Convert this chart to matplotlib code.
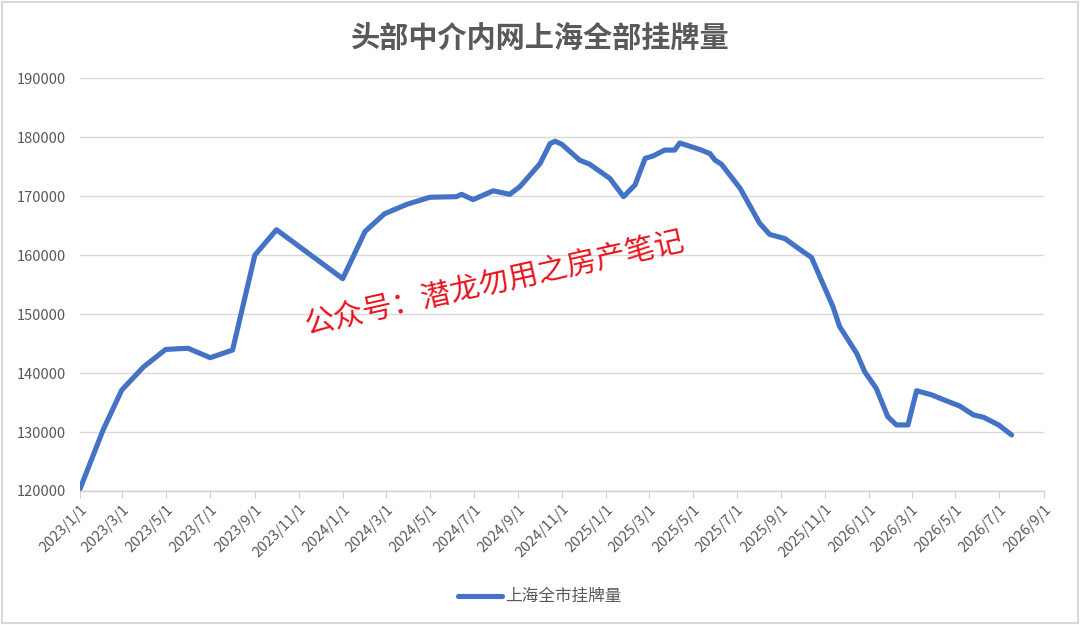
import pandas as pd
import matplotlib
matplotlib.use("Agg")
import matplotlib.pyplot as plt
from matplotlib.patches import Rectangle

plt.rcParams['font.family'] = ['Noto Sans CJK SC', 'DejaVu Sans']

# 数据
fechas = [
    "2023-01-01", "2023-02-02", "2023-02-28", "2023-03-30", "2023-04-30", "2023-05-31",
    "2023-07-01", "2023-08-01", "2023-09-01", "2023-10-01", "2024-01-01", "2024-02-01",
    "2024-02-28", "2024-03-30", "2024-05-01", "2024-06-07", "2024-06-14", "2024-06-30",
    "2024-07-28", "2024-08-20", "2024-09-03", "2024-10-01", "2024-10-15", "2024-10-22",
    "2024-10-31", "2024-11-25", "2024-12-09", "2025-01-06", "2025-01-25", "2025-02-10",
    "2025-02-24", "2025-03-07", "2025-03-23", "2025-04-06", "2025-04-13", "2025-05-11",
    "2025-05-25", "2025-06-01", "2025-06-10", "2025-07-06", "2025-08-02", "2025-08-16",
    "2025-09-06", "2025-10-01", "2025-10-13", "2025-11-12", "2025-11-21", "2025-12-15",
    "2025-12-26", "2026-01-11", "2026-01-27", "2026-02-08", "2026-02-24", "2026-03-08",
    "2026-03-29", "2026-04-16", "2026-05-07", "2026-05-26", "2026-06-09", "2026-06-30",
    "2026-07-18",
]
guapai = [
    120300, 130300, 137100, 141000, 144000, 144200,
    142600, 143900, 160000, 164300, 156000, 164000,
    167000, 168600, 169800, 169900, 170300, 169400,
    170900, 170300, 171600, 175500, 178900, 179300,
    178800, 176100, 175400, 173000, 169900, 171900,
    176400, 176800, 177800, 177800, 179000, 177900,
    177200, 176100, 175400, 171300, 165400, 163500,
    162800, 160600, 159600, 151200, 147900, 143300,
    140200, 137400, 132600, 131200, 131200, 137000,
    136300, 135400, 134400, 132900, 132500, 131200,
    129500,
]
y_ticks = [120000, 130000, 140000, 150000, 160000, 170000, 180000, 190000]

df = pd.DataFrame({"fecha": pd.to_datetime(fechas), "guapai": guapai})

fig = plt.figure(figsize=(10.8, 6.25), dpi=100)
ax = fig.add_axes([0.074, 0.2144, 0.8927, 0.6606])

ax.plot(df["fecha"], df["guapai"], color="#4472C4", linewidth=3.7,
        solid_joinstyle="round", solid_capstyle="round", label="上海全市挂牌量")

ax.set_ylim(120000, 190000)
ax.set_yticks(y_ticks)
ax.set_xlim(pd.Timestamp("2023-01-01"), pd.Timestamp("2026-09-01"))
ticks_x = pd.date_range("2023-01-01", "2026-09-01", freq="2MS")
ax.set_xticks(ticks_x)
ax.set_xticklabels([f"{d.year}/{d.month}/{d.day}" for d in ticks_x],
                   rotation=45, ha="right", rotation_mode="anchor")

ax.grid(axis="y", color="#d9d9d9", linewidth=1)
ax.set_axisbelow(True)
for s in ["top", "right", "left"]:
    ax.spines[s].set_visible(False)
ax.spines["bottom"].set_color("#d0d0d0")
ax.spines["bottom"].set_linewidth(1)
ax.tick_params(axis="x", colors="#595959", labelsize=10.5, length=5, color="#d0d0d0", pad=3)
ax.tick_params(axis="y", colors="#595959", labelsize=10.5, length=0, pad=10)

fig.suptitle("头部中介内网上海全部挂牌量", x=0.5, y=0.962, fontsize=21,
             fontweight="bold", color="#595959")

# 水印
fig.text(0.458, 0.548, "公众号：潜龙勿用之房产笔记", rotation=12.6, fontsize=21.5,
         color="#e8141e", ha="center", va="center")

ax.legend(loc="center", bbox_to_anchor=(0.5, 0.045), bbox_transform=fig.transFigure,
          frameon=False, fontsize=12, labelcolor="#595959", handlelength=2.6,
          handletextpad=0.2)

fig.patches.append(Rectangle((0.002, 0.003), 0.996, 0.994, transform=fig.transFigure,
                             fill=False, edgecolor="#d9d9d9", linewidth=1.5))

fig.savefig("out.png", dpi=100)
